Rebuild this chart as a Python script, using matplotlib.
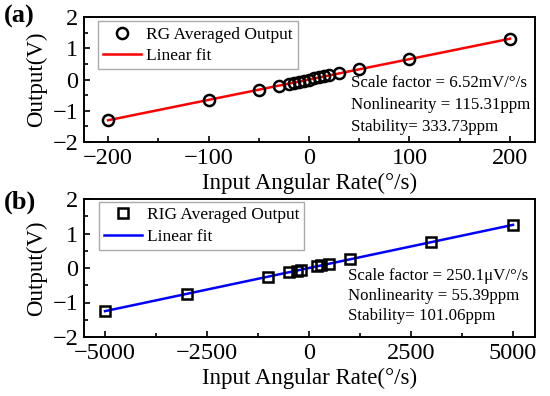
import matplotlib
matplotlib.use("Agg")
import matplotlib.pyplot as plt
import numpy as np
from matplotlib.ticker import MultipleLocator

plt.rcParams['font.family'] = ['Liberation Serif', 'DejaVu Serif']

# Panel (a) data
rate_a = [-200, -100, -50, -30, -20, -15, -10, -5, 0, 5, 10, 15, 20, 30, 50, 100, 200]
out_a = [-1.304, -0.652, -0.326, -0.196, -0.130, -0.098, -0.065, -0.033, 0.0,
         0.033, 0.065, 0.098, 0.130, 0.196, 0.326, 0.652, 1.304]
fit_a_x = [-200, 200]
fit_a_y = [-1.304, 1.304]
notes_a = ['Scale factor = 6.52mV/°/s', 'Nonlinearity = 115.31ppm', 'Stability= 333.73ppm']

# Panel (b) data
rate_b = [-5000, -3000, -1000, -500, -300, -200, 200, 300, 500, 1000, 3000, 5000]
out_b = [-1.2505, -0.7503, -0.2501, -0.1251, -0.0750, -0.0500, 0.0500, 0.0750,
         0.1251, 0.2501, 0.7503, 1.2505]
fit_b_x = [-5000, 5000]
fit_b_y = [-1.2505, 1.2505]
notes_b = ['Scale factor = 250.1μV/°/s', 'Nonlinearity = 55.39ppm', 'Stability= 101.06ppm']

fig = plt.figure(figsize=(5.5, 3.96), dpi=100)
ax1 = fig.add_axes([84/550, 254/396, 451/550, 125/396])
ax2 = fig.add_axes([84/550, 59/396, 451/550, 138/396])

TFS = 17.5
LFS = 16.5
for ax in (ax1, ax2):
    ax.tick_params(direction='in', which='both', top=False, right=False, labelsize=TFS, width=1.2, pad=4)
    ax.tick_params(which='major', length=4.5)
    ax.tick_params(which='minor', length=3)
    ax.set_ylim(-2, 2)
    ax.yaxis.set_major_locator(MultipleLocator(1))
    ax.yaxis.set_minor_locator(MultipleLocator(0.5))
    for s in ax.spines.values():
        s.set_linewidth(1.4)
    ax.set_ylabel('Output(V)', fontsize=LFS, labelpad=4)
    ax.set_xlabel('Input Angular Rate(°/s)', fontsize=LFS, labelpad=3)

leg_kw = dict(fontsize=12.5, fancybox=False, edgecolor='#aaaaaa', framealpha=1,
              borderpad=0.3, handlelength=2.2, handletextpad=0.25, labelspacing=0.3,
              loc='upper left')

# (a)
ax1.plot(rate_a, out_a, 'o', mfc='none', mec='black', ms=8, mew=1.8, label='RG Averaged Output', zorder=3)
ax1.plot(fit_a_x, fit_a_y, '-', color='red', lw=1.8, label='Linear fit', zorder=2)
ax1.set_xlim(-224, 225)
ax1.xaxis.set_major_locator(MultipleLocator(100))
ax1.xaxis.set_minor_locator(MultipleLocator(50))
ax1.legend(bbox_to_anchor=(0.031, 0.965), borderaxespad=0, **leg_kw)
for t, yf in zip(notes_a, [0.472, 0.296, 0.12]):
    ax1.text(0.592, yf, t, transform=ax1.transAxes, fontsize=12.2, va='center', ha='left')

# (b)
ax2.plot(rate_b, out_b, 's', mfc='none', mec='black', ms=7.5, mew=1.8, label='RIG Averaged Output', zorder=3)
ax2.plot(fit_b_x, fit_b_y, '-', color='blue', lw=1.8, label='Linear fit', zorder=2)
ax2.set_xlim(-5515, 5540)
ax2.xaxis.set_major_locator(MultipleLocator(2500))
ax2.xaxis.set_minor_locator(MultipleLocator(1250))
ax2.legend(bbox_to_anchor=(0.033, 0.978), borderaxespad=0, **leg_kw)
for t, yf in zip(notes_b, [0.445, 0.299, 0.153]):
    ax2.text(0.585, yf, t, transform=ax2.transAxes, fontsize=12.2, va='center', ha='left')

fig.text(4/550, 1 - 16/396, '(a)', fontsize=19, fontweight='bold', ha='left', va='center')
fig.text(4/550, 1 - 202/396, '(b)', fontsize=19, fontweight='bold', ha='left', va='center')

fig.savefig('out.png', dpi=100)
